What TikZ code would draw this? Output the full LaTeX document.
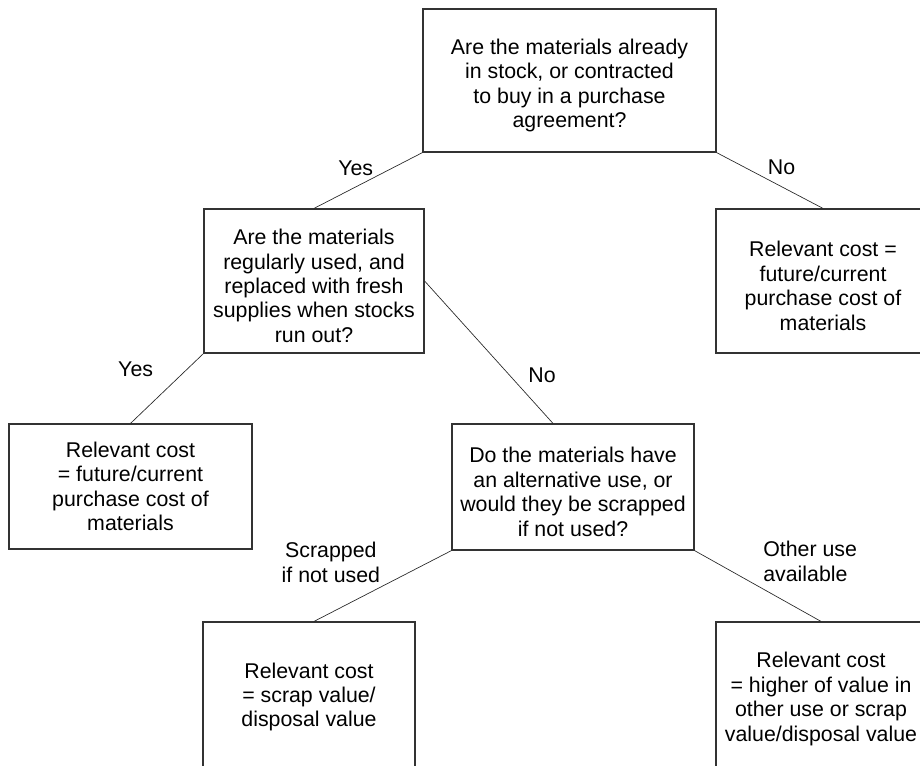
\documentclass[tikz,border=0pt]{standalone}
\usepackage{fontspec}
\setmainfont{Liberation Sans}
\usetikzlibrary{positioning}

% pushes a box's text a little down
\newcommand{\topgap}{\rule{0pt}{19pt}}

\begin{document}
\begin{tikzpicture}[
  x=0.75pt, y=-0.75pt,
  question/.style={rectangle, draw=black!80, line width=0.9pt, align=center, inner sep=2pt, font=\fontsize{16}{18.3}\selectfont},
  answer/.style={question},
  branch/.style={line width=0.5pt, draw=black!85},
  tag/.style={inner sep=0pt, align=center, font=\fontsize{16}{18.3}\selectfont}
]

\useasboundingbox (0,0) rectangle (920,765);

% -------------------------
% QUESTIONS
% -------------------------
\node[question, minimum width=219.75pt, minimum height=107.25pt] (stockQ) at (569.5, 80.5) {\topgap Are the materials already\\in stock, or contracted\\to buy in a purchase\\agreement?};
\node[question, minimum width=165pt, minimum height=108pt] (usedQ) at (314, 281) {\topgap Are the materials\\regularly used, and\\replaced with fresh\\supplies when stocks\\run out?};
\node[question, minimum width=181.5pt, minimum height=94.5pt] (altQ) at (573, 487) {\topgap Do the materials have\\an alternative use, or\\would they be scrapped\\if not used?};

% -------------------------
% RELEVANT COSTS
% -------------------------
\node[answer, minimum width=160.5pt, minimum height=108pt] (buyCostR) at (823, 281) {\topgap Relevant cost =\\future/current\\purchase cost of\\materials};
\node[answer, minimum width=182.25pt, minimum height=93.75pt] (buyCostL) at (130.5, 486.5) {Relevant cost\\= future/current\\purchase cost of\\materials};
\node[answer, minimum width=159pt, minimum height=112.5pt] (scrapCost) at (309, 697) {Relevant cost\\= scrap value/\\disposal value};
\node[answer, minimum width=157.5pt, minimum height=115.5pt] (otherCost) at (821, 699) {Relevant cost\\= higher of value in\\other use or scrap\\value/disposal value};

% Branches
\draw[branch] (stockQ.south west) -- node[tag, pos=0.28, left=14pt] {Yes} (usedQ.north);
\draw[branch] (stockQ.south east) -- node[tag, pos=0.26, right=17.5pt] {No} (buyCostR.north);
\draw[branch] (usedQ.south west) -- node[tag, pos=0.22, left=25.5pt] {Yes} (buyCostL.north);
\draw[branch] (usedQ.east) -- node[tag, pos=0.66, right=14pt] {No} ([xshift=-15pt]altQ.north);
\draw[branch] (altQ.south west) -- node[tag, pos=0.167, left=36pt] {Scrapped\\if not used} ([xshift=3.75pt]scrapCost.north);
\draw[branch] (altQ.south east) -- node[tag, pos=0.153, right=36.75pt, align=left] {Other use\\available} (otherCost.north);

\end{tikzpicture}
\end{document}
